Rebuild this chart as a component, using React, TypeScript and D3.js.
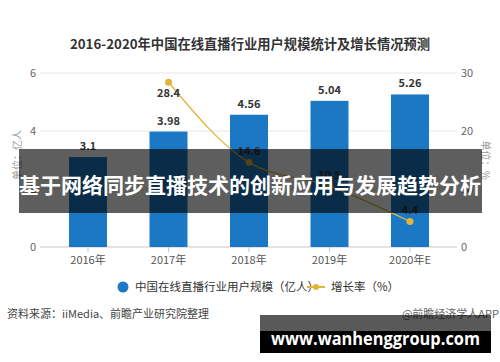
import React from "react";
import * as d3 from "d3";

const categories = ["2016年", "2017年", "2018年", "2019年", "2020年E"];
const userScale = [3.1, 3.98, 4.56, 5.04, 5.26];
const growthYears = ["2017年", "2018年", "2019年", "2020年E"];
const growthRate = [28.4, 14.6, 10.5, 4.4];
const leftTicks = [0, 2, 4, 6];
const rightTicks = [0, 10, 20, 30];

const title = "2016-2020年中国在线直播行业用户规模统计及增长情况预测";
const bannerText = "基于网络同步直播技术的创新应用与发展趋势分析";
const seriesNames = ["中国在线直播行业用户规模（亿人）", "增长率（%）"];
const sourceText = "资料来源：iiMedia、前瞻产业研究院整理";
const creditText = "@前瞻经济学人APP";
const siteText = "www.wanhenggroup.com";

const BLUE = "#1a78c4";
const GOLD = "#e2b43a";
const FONT = "'Microsoft YaHei', 'Noto Sans CJK SC', 'Noto Sans', sans-serif";

export default function App() {
  const x = d3
    .scaleBand<string>()
    .domain(categories)
    .range([47.75, 450.25])
    .paddingInner(0.528)
    .paddingOuter(0.264);
  const yL = d3.scaleLinear().domain([0, 6]).range([247, 73]);
  const yR = d3.scaleLinear().domain([0, 30]).range([247, 73]);
  const cx = (c: string) => (x(c) as number) + x.bandwidth() / 2;

  const line = d3
    .line<number>()
    .x((_, i) => cx(growthYears[i]))
    .y((d) => yR(d))
    .curve(d3.curveMonotoneX);

  return (
    <svg
      width={500}
      height={362}
      style={{ position: "absolute", left: 0, top: 0, background: "#fff", fontFamily: FONT }}
    >
      <rect width={500} height={362} fill="#fff" />
      <text x={250} y={49} textAnchor="middle" fontSize={13.3} fontWeight="bold" fill="#333">
        {title}
      </text>

      {/* gridlines */}
      {leftTicks.map((t) => (
        <line
          key={"g" + t}
          x1={40}
          x2={457}
          y1={yL(t)}
          y2={yL(t)}
          stroke={t === 0 ? "#c8c8c8" : "#e6e6e6"}
          strokeWidth={1}
        />
      ))}
      {categories.map((c) => (
        <line key={"tk" + c} x1={cx(c)} x2={cx(c)} y1={247} y2={252} stroke="#c8c8c8" />
      ))}

      {/* left ticks */}
      {leftTicks.map((t) => (
        <text key={"l" + t} x={33} y={yL(t) + 4} textAnchor="middle" fontSize={11} fill="#666">
          {t}
        </text>
      ))}
      {rightTicks.map((t) => (
        <text key={"r" + t} x={461} y={yR(t) + 4} textAnchor="start" fontSize={11} fill="#666">
          {t}
        </text>
      ))}
      <text
        transform="translate(21,155) rotate(-90)"
        textAnchor="middle"
        fontSize={10}
        fill="#999"
      >
        单位：亿人
      </text>
      <text
        transform="translate(482,160) rotate(90)"
        textAnchor="middle"
        fontSize={10}
        fill="#999"
      >
        单位：%
      </text>

      {/* bars */}
      {categories.map((c, i) => (
        <g key={"b" + c}>
          <rect
            x={x(c)}
            y={yL(userScale[i])}
            width={x.bandwidth()}
            height={247 - yL(userScale[i])}
            fill={BLUE}
          />
          <text
            x={cx(c)}
            y={yL(userScale[i]) - 7}
            textAnchor="middle"
            fontSize={11}
            fontWeight="bold"
            fill="#333"
          >
            {userScale[i]}
          </text>
        </g>
      ))}

      {/* x labels */}
      {categories.map((c) => (
        <text key={"x" + c} x={cx(c)} y={264} textAnchor="middle" fontSize={11} fill="#555">
          {c}
        </text>
      ))}

      {/* growth line */}
      <path d={line(growthRate) || ""} fill="none" stroke={GOLD} strokeWidth={1.3} />
      {growthRate.map((v, i) => (
        <g key={"p" + i}>
          <circle cx={cx(growthYears[i])} cy={yR(v)} r={3.5} fill={GOLD} />
          <text
            x={cx(growthYears[i])}
            y={i === 0 ? yR(v) + 15 : yR(v) - 7}
            textAnchor="middle"
            fontSize={11}
            fontWeight="bold"
            fill="#333"
          >
            {v}
          </text>
        </g>
      ))}

      {/* legend */}
      <circle cx={123} cy={287} r={5.5} fill={BLUE} />
      <text x={135} y={291} fontSize={11.5} fill="#333">
        {seriesNames[0]}
      </text>
      <line x1={307} x2={325} y1={287} y2={287} stroke={GOLD} strokeWidth={2} />
      <circle cx={316} cy={287} r={3} fill={GOLD} />
      <text x={331} y={291} fontSize={11.5} fill="#333">
        {seriesNames[1]}
      </text>

      {/* source */}
      <text x={7} y={318} fontSize={11} fill="#444">
        {sourceText}
      </text>
      <text x={499} y={318} textAnchor="end" fontSize={11} fill="#666">
        {creditText}
      </text>

      {/* banner overlay */}
      <rect x={19} y={149} width={463} height={64} fill="rgba(0,0,0,0.63)" />
      <text
        x={250}
        y={193}
        textAnchor="middle"
        fontSize={21}
        fontWeight="bold"
        fill="#fff"
        fontFamily="'Noto Sans CJK SC', sans-serif"
      >
        {bannerText}
      </text>

      {/* bottom site box */}
      <rect x={260} y={315} width={231} height={16} fill="rgba(0,0,0,0.65)" />
      <rect x={260} y={331} width={231} height={22} fill="#000" />
      <text
        x={375.5}
        y={345}
        textAnchor="middle"
        fontSize={18}
        fontWeight="bold"
        fill="#fff"
        fontFamily="'Open Sans', 'Noto Sans', sans-serif"
        textLength={209}
        lengthAdjust="spacingAndGlyphs"
      >
        {siteText}
      </text>
    </svg>
  );
}
